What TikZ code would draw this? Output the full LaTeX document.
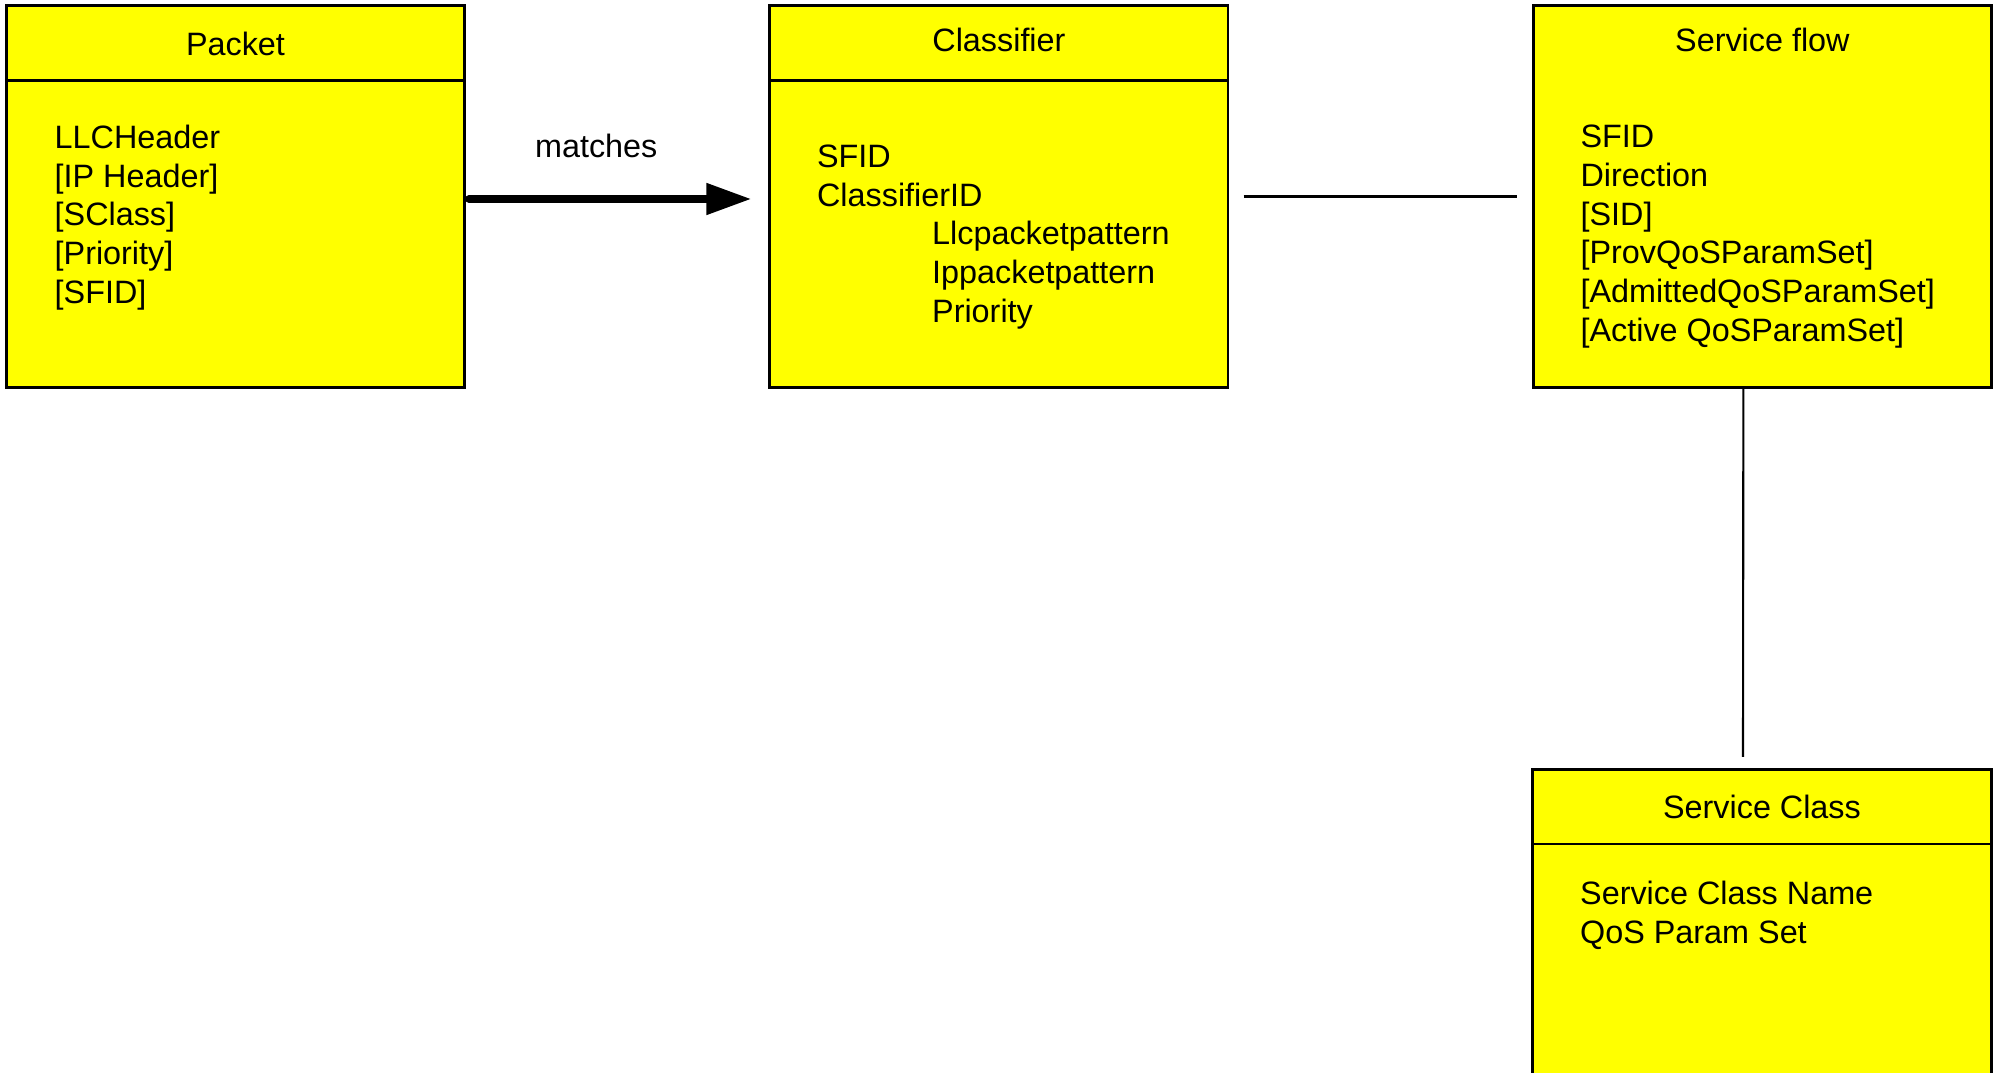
\documentclass[tikz,border=0pt]{standalone}
\usepackage{fontspec}
\setmainfont{Liberation Sans}
\usetikzlibrary{shapes,arrows.meta}
\definecolor{classyellow}{RGB}{255,255,0}
\tikzstyle{block} = [rectangle, draw, line width=0.8pt, fill=classyellow, minimum width=4.58cm, minimum height=3.81cm]
\tikzstyle{heading} = [inner sep=0pt, anchor=base, font=\fontsize{9.2}{11}\selectfont]
\tikzstyle{fields} = [inner sep=0pt, anchor=base west, align=left, font=\fontsize{9.2}{11}\selectfont]
\tikzstyle{edgetext} = [inner sep=0pt, font=\fontsize{9.2}{11}\selectfont]
\tikzstyle{line} = [draw, line width=0.6pt]
\tikzstyle{divider} = [draw, line width=0.8pt]
\tikzstyle{thickline} = [draw, line width=2.2pt, line cap=round, -{Triangle[length=4.5mm,width=3mm]}]

\begin{document}
\begin{tikzpicture}[x=0.01cm, y=-0.01cm, node distance=7.63cm]
  \fill [white] (0,0) rectangle (1999,1073);
  \clip (0,0) rectangle (1999,1073);
  % Place nodes
  \node [block] (packet) at (235.5,196.5) {};
  \node [block, right of=packet] (classifier) {};
  \node [block, right of=classifier] (flow) {};
  \node [block, anchor=north] (sclass) at (1762,768) {};
  % Header lines
  \path [divider] ([yshift=-7.6mm]packet.north west) -- ([yshift=-7.6mm]packet.north east);
  \path [divider] ([yshift=-7.6mm]classifier.north west) -- ([yshift=-7.6mm]classifier.north east);
  \path [divider] ([yshift=-7.6mm]sclass.north west) -- ([yshift=-7.6mm]sclass.north east);
  % Titles
  \node [heading] (packettitle) at ([yshift=-5.05mm]packet.north) {Packet};
  \node [heading] (classifiertitle) at ([yshift=-4.65mm]classifier.north) {Classifier};
  \node [heading] (flowtitle) at ([yshift=-4.65mm]flow.north) {Service flow};
  \node [heading] (sclasstitle) at ([yshift=-5mm]sclass.north) {Service Class};
  % Attributes (base = baseline of the last line)
  \node [fields] (packetfields) at ([xshift=4.9mm, yshift=-29.85mm]packet.north west)
    {LLCHeader\\{[}IP Header]\\{[}SClass]\\{[}Priority]\\{[}SFID]};
  \node [fields] (classifierfields) at ([xshift=4.8mm, yshift=-31.75mm]classifier.north west)
    {SFID\\ClassifierID\\\hspace*{1.15cm}Llcpacketpattern\\\hspace*{1.15cm}Ippacketpattern\\\hspace*{1.15cm}Priority};
  \node [fields] (flowfields) at ([xshift=4.8mm, yshift=-33.65mm]flow.north west)
    {SFID\\Direction\\{[}SID]\\{[}ProvQoSParamSet]\\{[}AdmittedQoSParamSet]\\{[}Active QoSParamSet]};
  \node [fields] (sclassfields) at ([xshift=4.8mm, yshift=-17.5mm]sclass.north west)
    {Service Class Name\\QoS Param Set};
  % Draw edges
  \path [thickline, shorten <=0.3mm, shorten >=1.7mm] ([yshift=-0.25mm]packet.east) -- node [edgetext, above=3.75mm, xshift=-2.1mm] (matchtext) {matches} ([yshift=-0.25mm]classifier.west);
  \path [line, shorten <=1.4mm, shorten >=1.5mm] (classifier) -- (flow);
  \path [line, shorten >=1.1mm] ([xshift=-1.9mm]flow.south) -- ([xshift=-1.9mm]sclass.north);
\end{tikzpicture}
\end{document}
